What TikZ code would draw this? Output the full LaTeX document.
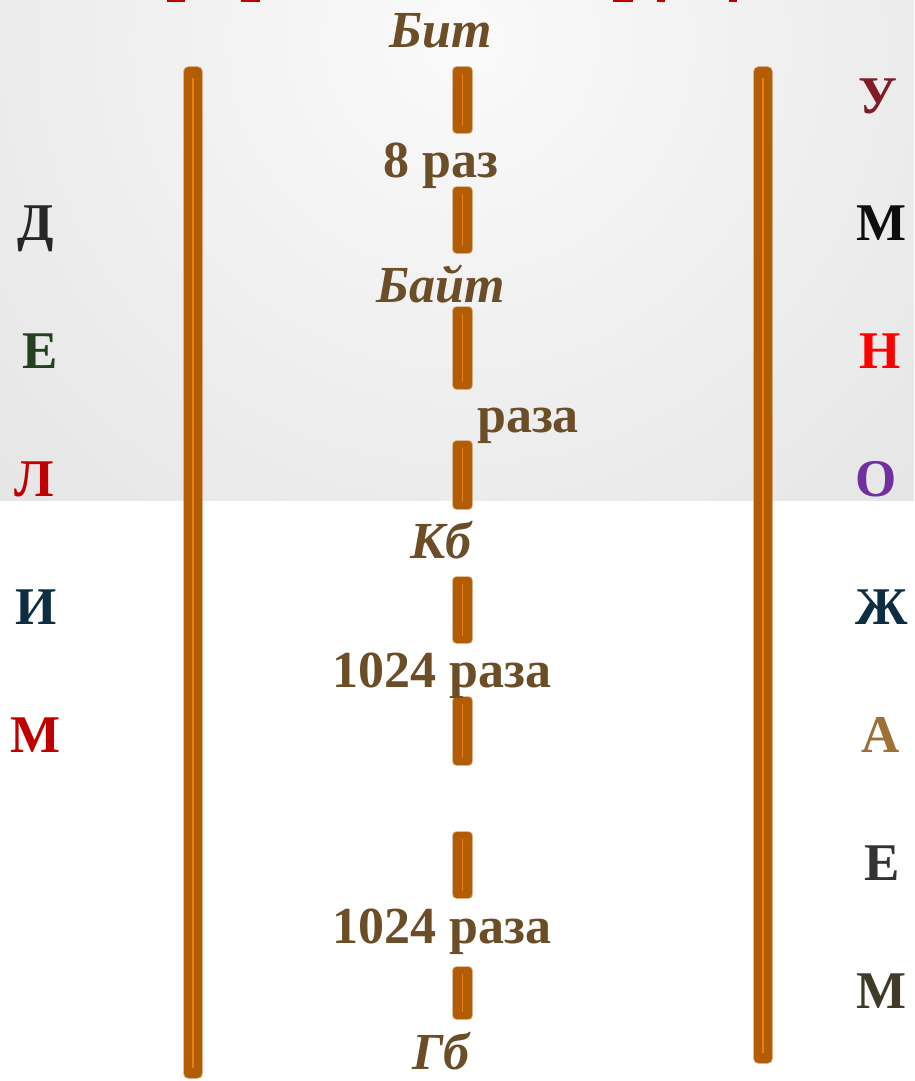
\documentclass[tikz,border=0pt]{standalone}
\usepackage{fontspec}
\setmainfont{Liberation Serif}
\definecolor{barc}{RGB}{178,92,4}
\definecolor{barhi}{RGB}{232,126,22}
\definecolor{txtbrown}{RGB}{107,78,40}
\definecolor{cDa}{RGB}{38,38,38}
\definecolor{cGreen}{RGB}{37,64,33}
\definecolor{cRed}{RGB}{192,0,0}
\definecolor{cNavy}{RGB}{15,45,64}
\definecolor{cMaroon}{RGB}{127,28,40}
\definecolor{cBlack}{RGB}{13,13,13}
\definecolor{cBright}{RGB}{255,0,0}
\definecolor{cPurple}{RGB}{112,48,160}
\definecolor{cGold}{RGB}{156,113,56}
\definecolor{cGrey}{RGB}{51,51,51}
\definecolor{cOlive}{RGB}{64,58,40}
\tikzset{
  unit/.style={font=\fontsize{52}{52}\selectfont\bfseries\itshape, text=txtbrown, anchor=base, inner sep=0pt},
  factor/.style={font=\fontsize{52}{52}\selectfont\bfseries, text=txtbrown, anchor=base, inner sep=0pt},
  letter/.style={font=\fontsize{53}{53}\selectfont\bfseries, anchor=base, inner sep=0pt},
  barrim/.style={fill=barc!60!white, rounded corners=5pt},
  barbody/.style={fill=barc, rounded corners=5pt},
  barline/.style={draw=barhi, line width=1.3pt},
}
\begin{document}
\begin{tikzpicture}[x=1pt,y=-1pt]
\useasboundingbox (0,0) rectangle (914,1081);
% background: light grey shaded band on top, white below
\fill[white] (0,0) rectangle (914,1081);
\begin{scope}
  \clip (0,0) rectangle (914,500);
  \shade[inner color=white!98!black, outer color=black!18] (460,40) circle (1300);
\end{scope}
% cut-off title fragments along the top edge
\foreach \a/\b in {167/185, 241/260, 613/633, 657/665, 729/737}
  \fill[cRed] (\a,0) rectangle (\b,2.2);
% side bars
\path[barrim] (183.3,66.3) rectangle (202.7,1078.7);
\path[barbody] (184,67) rectangle (202,1078);
\path[barline] (193,78) -- (193,1068);
\path[barrim] (753.3,66.3) rectangle (772.7,1063.7);
\path[barbody] (754,67) rectangle (772,1063);
\path[barline] (763,78) -- (763,1053);
% middle dashes
\foreach \a/\b in {67/133, 187/253, 307/389, 441/509, 577/643, 697/765, 832/898, 967/1019}{
  \path[barrim, rounded corners=4pt] (452.3,\a-0.7) rectangle (472.7,\b+0.7);
  \path[barbody, rounded corners=4pt] (453,\a) rectangle (472,\b);
  \path[barline, line width=1pt] (462.5,\a+7) -- (462.5,\b-7);
}
% units and conversion factors
\node[unit] (bit) at (441,48) {Бит};
\node[factor] (f1) at (441,177) {8 раз};
\node[unit] (byte) at (441,302) {Байт};
\node[factor] (f2) at (528,432) {раза};
\node[unit] (kb) at (441,558) {Кб};
\node[factor] (f3) at (442,687) {1024 раза};
\node[factor] (f4) at (442,943) {1024 раза};
\node[unit] (gb) at (441,1069) {Гб};
% left column: ДЕЛИМ
\node[letter, text=cDa] (l1) at (36,240) {Д};
\node[letter, text=cGreen] (l2) at (40,368) {Е};
\node[letter, text=cRed] (l3) at (34,496) {Л};
\node[letter, text=cNavy] (l4) at (36,624) {И};
\node[letter, text=cRed] (l5) at (36,752) {М};
% right column: УМНОЖАЕМ
\node[letter, text=cMaroon] (r1) at (878,113) {У};
\node[letter, text=cBlack] (r2) at (881,240) {М};
\node[letter, text=cBright] (r3) at (880,368) {Н};
\node[letter, text=cPurple] (r4) at (876,496) {О};
\node[letter, text=cNavy] (r5) at (882,624) {Ж};
\node[letter, text=cGold] (r6) at (881,752) {А};
\node[letter, text=cGrey] (r7) at (882,880) {Е};
\node[letter, text=cOlive] (r8) at (882,1008) {М};
\end{tikzpicture}
\end{document}
